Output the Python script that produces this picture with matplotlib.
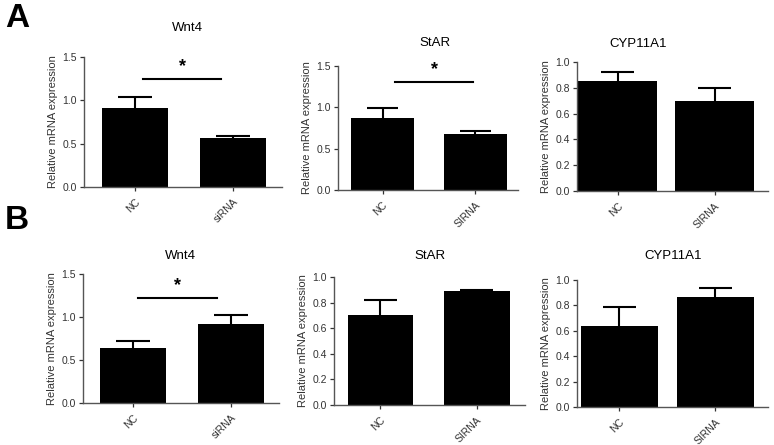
import matplotlib
matplotlib.use("Agg")
import matplotlib.pyplot as plt

plt.rcParams['font.family'] = ['Liberation Sans', 'DejaVu Sans']

# data
groups = ["NC", "siRNA"]
genes = ["Wnt4", "StAR", "CYP11A1"]

a_means = [[0.91, 0.57], [0.87, 0.68], [0.85, 0.70]]
a_errs = [[0.13, 0.02], [0.12, 0.03], [0.07, 0.10]]
b_means = [[0.64, 0.92], [0.70, 0.89], [0.64, 0.87]]
b_errs = [[0.08, 0.10], [0.12, 0.01], [0.15, 0.07]]

a_xticklabels = [["NC", "siRNA"], ["NC", "SIRNA"], ["NC", "SIRNA"]]
b_xticklabels = [["NC", "siRNA"], ["NC", "SIRNA"], ["NC", "SIRNA"]]

# y axis ranges / ticks per panel
ymax_list = [1.5, 1.5, 1.0, 1.5, 1.0, 1.0]
ystep_list = [0.5, 0.5, 0.2, 0.5, 0.2, 0.2]

# significance bars: (panel index, y level, x start, x end)
sig_bars = [(0, 1.25, 0.08, 0.88), (1, 1.31, 0.13, 0.98), (3, 1.22, 0.05, 0.86)]

W, H = 774, 445
# axes boxes in pixels: left, top, right, bottom
boxes = [(84, 57, 282, 187), (338, 66, 518, 190), (577, 62, 768, 191),
         (83, 274, 279, 403), (334, 277, 525, 405), (577, 280, 768, 407)]
xlims = [(-0.52, 1.5), (-0.48, 1.46), (-0.42, 1.55),
         (-0.51, 1.49), (-0.48, 1.5), (-0.44, 1.55)]
widths = [0.68, 0.68, 0.82, 0.68, 0.68, 0.8]
# title positions in pixels (centre x, top y)
title_pos = [(187, 22), (435, 37), (638, 38), (180, 250), (430, 250), (673, 250)]

fig = plt.figure(figsize=(W / 100, H / 100), dpi=100)

means = a_means + b_means
errs = a_errs + b_errs
xtl = a_xticklabels + b_xticklabels
spine_c = "#555555"
text_c = "#333333"

for i in range(6):
    l, t, r, b = boxes[i]
    ax = fig.add_axes([l / W, 1 - b / H, (r - l) / W, (b - t) / H])
    x = [0, 1]
    ax.bar(x, means[i], width=widths[i], color="black", zorder=2)
    # upward-only error bars
    tops = [m + e for m, e in zip(means[i], errs[i])]
    ax.vlines(x, means[i], tops, color="black", lw=1.5, zorder=1)
    ax.hlines(tops, [xx - 0.17 for xx in x], [xx + 0.17 for xx in x],
              color="black", lw=1.5, zorder=1)
    ax.set_xlim(*xlims[i])
    ymax = ymax_list[i]
    ax.set_ylim(0, ymax)
    step = ystep_list[i]
    n = int(round(ymax / step))
    ax.set_yticks([k * step for k in range(n + 1)])
    ax.set_yticklabels([f"{k * step:.1f}" for k in range(n + 1)])
    ax.set_xticks(x)
    ax.set_xticklabels(xtl[i], rotation=45, ha="right", va="top",
                       rotation_mode="anchor")
    ax.tick_params(axis="both", labelsize=7.5, colors=text_c, length=3,
                   width=0.9, pad=2)
    ax.tick_params(axis="x", pad=4)
    for s in ["top", "right"]:
        ax.spines[s].set_visible(False)
    for s in ["left", "bottom"]:
        ax.spines[s].set_color(spine_c)
        ax.spines[s].set_linewidth(1.0)
    ax.set_ylabel("Relative mRNA expression", fontsize=8, color=text_c, labelpad=3)

    tx, ty = title_pos[i]
    fig.text(tx / W, 1 - ty / H, genes[i % 3], fontsize=9.5, ha="center", va="top")

    for (p, yv, x0, x1) in sig_bars:
        if p == i:
            ax.plot([x0, x1], [yv, yv], color="black", lw=1.5, clip_on=False)
            ax.text((x0 + x1) / 2, yv + 0.03 * ymax, "*", ha="center", va="bottom",
                    fontsize=13, fontweight="bold")

fig.text(5 / W, 1 - 3 / H, "A", fontsize=24, fontweight="bold", va="top", ha="left")
fig.text(5 / W, 1 - 205 / H, "B", fontsize=24, fontweight="bold", va="top", ha="left")

fig.savefig("out.png", dpi=100, facecolor="white")
